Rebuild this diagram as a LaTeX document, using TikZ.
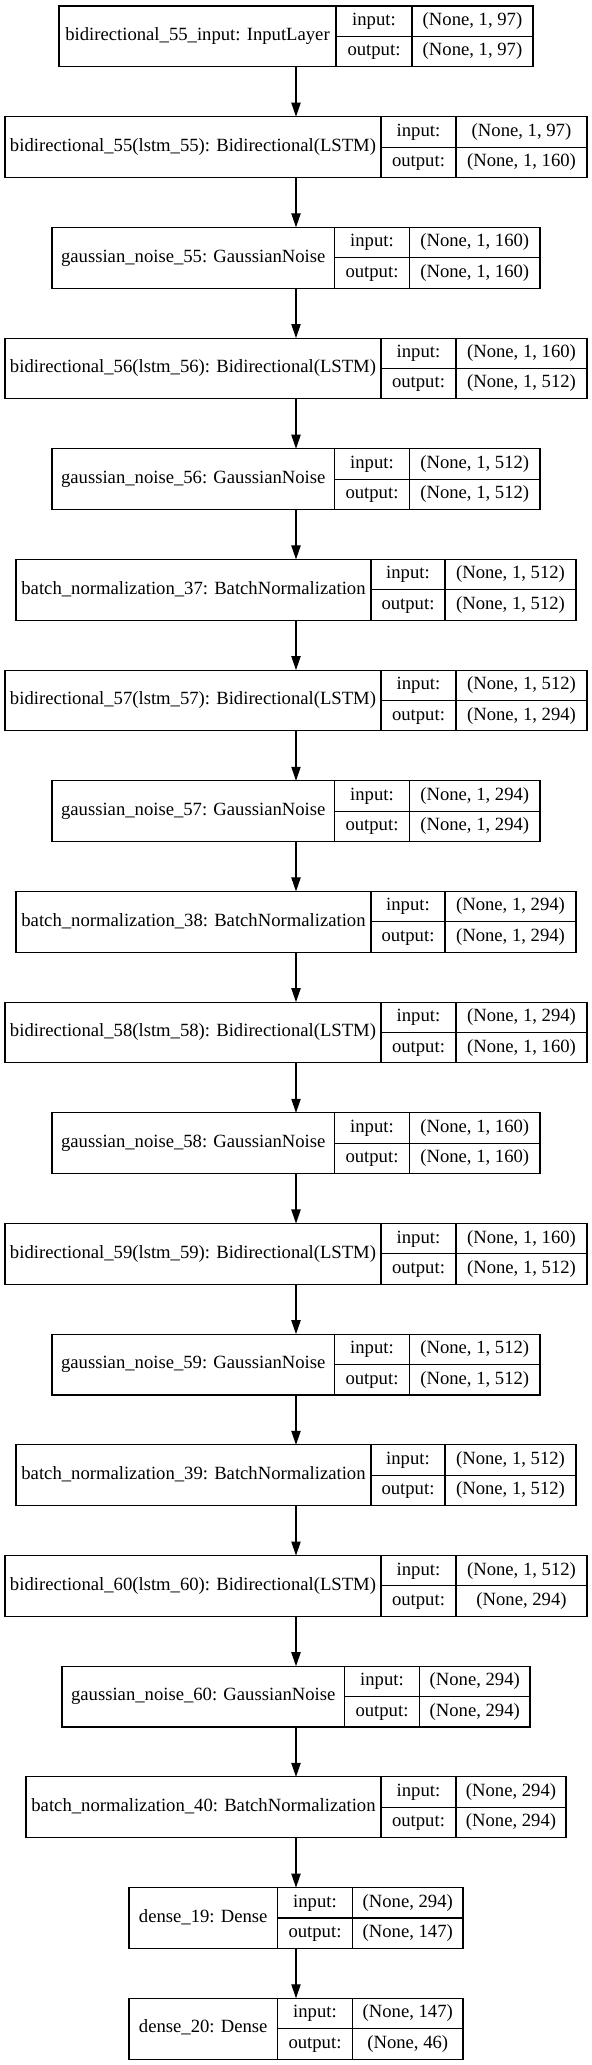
\documentclass[tikz,border=0pt]{standalone}
\usepackage{fontspec}
\setmainfont{Liberation Serif}
\usetikzlibrary{arrows.meta}
\tikzset{
  layerbox/.style={draw=black, line width=0.8pt, inner sep=0pt, outer sep=0pt, minimum height=45.6pt},
  sepline/.style={draw=black, line width=0.8pt},
  txt/.style={inner sep=0pt, font=\fontsize{14pt}{16pt}\selectfont, text height=9.5pt, text depth=3pt},
  arr/.style={draw=black, line width=0.8pt, -{Triangle[length=10.5pt,width=7pt]}}
}
\newcommand{\mklayer}[9]{%
  \pgfmathsetmacro{\mkTop}{6+110.68*#2}%
  \pgfmathsetmacro{\mkBot}{\mkTop+60.8}%
  \pgfmathsetmacro{\mkMid}{\mkTop+30.4}%
  \pgfmathsetmacro{\mkQa}{\mkTop+15.2}%
  \pgfmathsetmacro{\mkQb}{\mkTop+45.6}%
  \pgfmathsetmacro{\mkW}{(#6-#3)*0.75}%
  \pgfmathsetmacro{\mkCx}{(#3+#6)/2}%
  \pgfmathsetmacro{\mkLx}{(#3+#4)/2}%
  \pgfmathsetmacro{\mkIx}{(#4+#5)/2}%
  \pgfmathsetmacro{\mkVx}{(#5+#6)/2}%
  \node[layerbox, minimum width=\mkW pt] (#1) at (\mkCx,\mkMid) {};
  \draw[sepline] (#4,\mkTop) -- (#4,\mkBot) (#5,\mkTop) -- (#5,\mkBot) (#4,\mkMid) -- (#6,\mkMid);
  \node[txt] (#1-l) at (\mkLx,\mkMid) {#7};
  \node[txt] (#1-i) at (\mkIx,\mkQa) {input:};
  \node[txt] (#1-o) at (\mkIx,\mkQb) {output:};
  \node[txt] (#1-iv) at (\mkVx,\mkQa) {#8};
  \node[txt] (#1-ov) at (\mkVx,\mkQb) {#9};
}
\begin{document}
\begin{tikzpicture}[x=0.75pt, y=-0.75pt]
\useasboundingbox (0,0) rectangle (592,2065);
\fill[white] (0,0) rectangle (592,2065);
\mklayer{L0}{0}{59}{336}{412}{533}{bidirectional\_55\_input: InputLayer}{(None, 1, 97)}{(None, 1, 97)}
\mklayer{L1}{1}{5}{381}{456}{587}{bidirectional\_55(lstm\_55): Bidirectional(LSTM)}{(None, 1, 97)}{(None, 1, 160)}
\mklayer{L2}{2}{52}{334.5}{409.5}{540}{gaussian\_noise\_55: GaussianNoise}{(None, 1, 160)}{(None, 1, 160)}
\mklayer{L3}{3}{5}{381}{456}{587}{bidirectional\_56(lstm\_56): Bidirectional(LSTM)}{(None, 1, 160)}{(None, 1, 512)}
\mklayer{L4}{4}{52}{334.5}{409.5}{540}{gaussian\_noise\_56: GaussianNoise}{(None, 1, 512)}{(None, 1, 512)}
\mklayer{L5}{5}{16}{371}{445}{576}{batch\_normalization\_37: BatchNormalization}{(None, 1, 512)}{(None, 1, 512)}
\mklayer{L6}{6}{5}{381}{456}{587}{bidirectional\_57(lstm\_57): Bidirectional(LSTM)}{(None, 1, 512)}{(None, 1, 294)}
\mklayer{L7}{7}{52}{334.5}{409.5}{540}{gaussian\_noise\_57: GaussianNoise}{(None, 1, 294)}{(None, 1, 294)}
\mklayer{L8}{8}{16}{371}{445}{576}{batch\_normalization\_38: BatchNormalization}{(None, 1, 294)}{(None, 1, 294)}
\mklayer{L9}{9}{5}{381}{456}{587}{bidirectional\_58(lstm\_58): Bidirectional(LSTM)}{(None, 1, 294)}{(None, 1, 160)}
\mklayer{L10}{10}{52}{334.5}{409.5}{540}{gaussian\_noise\_58: GaussianNoise}{(None, 1, 160)}{(None, 1, 160)}
\mklayer{L11}{11}{5}{381}{456}{587}{bidirectional\_59(lstm\_59): Bidirectional(LSTM)}{(None, 1, 160)}{(None, 1, 512)}
\mklayer{L12}{12}{52}{334.5}{409.5}{540}{gaussian\_noise\_59: GaussianNoise}{(None, 1, 512)}{(None, 1, 512)}
\mklayer{L13}{13}{16}{371}{445}{576}{batch\_normalization\_39: BatchNormalization}{(None, 1, 512)}{(None, 1, 512)}
\mklayer{L14}{14}{5}{381}{456}{587}{bidirectional\_60(lstm\_60): Bidirectional(LSTM)}{(None, 1, 512)}{(None, 294)}
\mklayer{L15}{15}{62}{344.5}{419.5}{530}{gaussian\_noise\_60: GaussianNoise}{(None, 294)}{(None, 294)}
\mklayer{L16}{16}{26}{381}{456}{566}{batch\_normalization\_40: BatchNormalization}{(None, 294)}{(None, 294)}
\mklayer{L17}{17}{129}{277.5}{352.5}{463}{dense\_19: Dense}{(None, 294)}{(None, 147)}
\mklayer{L18}{18}{129}{277.5}{352.5}{463}{dense\_20: Dense}{(None, 147)}{(None, 46)}
\foreach \a/\b in {L0/L1,L1/L2,L2/L3,L3/L4,L4/L5,L5/L6,L6/L7,L7/L8,L8/L9,L9/L10,L10/L11,L11/L12,L12/L13,L13/L14,L14/L15,L15/L16,L16/L17,L17/L18}
  \draw[arr] (\a.south) -- (\b.north);
\end{tikzpicture}
\end{document}
